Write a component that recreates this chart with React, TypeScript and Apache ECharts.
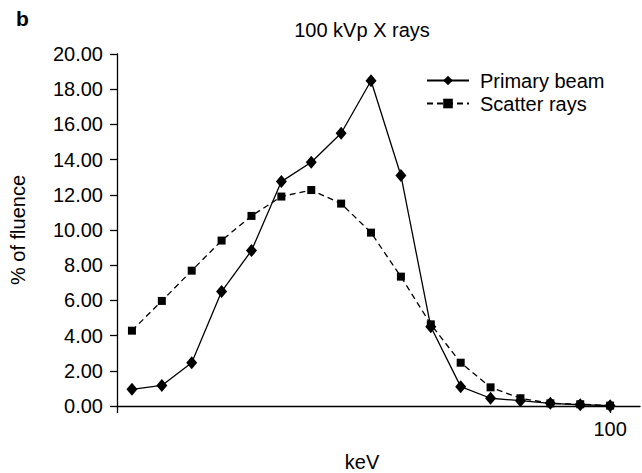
import React, { useEffect, useRef } from "react";
import * as echarts from "echarts";

const keV = [20, 25, 30, 35, 40, 45, 50, 55, 60, 65, 70, 75, 80, 85, 90, 95, 100];
const primaryBeam = [0.95, 1.17, 2.46, 6.5, 8.83, 12.75, 13.85, 15.5, 18.48, 13.1, 4.5, 1.1, 0.44, 0.3, 0.15, 0.07, 0.02];
const scatterRays = [4.28, 5.97, 7.69, 9.4, 10.8, 11.9, 12.27, 11.5, 9.85, 7.35, 4.64, 2.46, 1.06, 0.44, 0.15, 0.1, 0.02];
const xTickValues = [17.5, 100];
const xLabelValues = [100];

const FONT = "'Liberation Sans', Arial, Helvetica, sans-serif";

export default function App() {
  const ref = useRef<HTMLDivElement>(null);
  useEffect(() => {
    if (!ref.current) return;
    const chart = echarts.init(ref.current, null, { renderer: "svg" });
    chart.setOption({
      animation: false,
      backgroundColor: "#ffffff",
      textStyle: { fontFamily: FONT, color: "#000" },
      grid: { left: 113, right: 2, top: 54, bottom: 67, containLabel: false },
      graphic: [
        {
          type: "text",
          left: 16,
          top: 8,
          style: { text: "b", fontSize: 21, fontWeight: "bold", fontFamily: FONT, fill: "#000" },
        },
        {
          type: "text",
          x: 362,
          y: 30,
          style: { text: "100 kVp X rays", fontSize: 20, fontFamily: FONT, fill: "#000", align: "center", verticalAlign: "middle" },
        },
        {
          type: "text",
          x: 362,
          y: 462,
          style: { text: "keV", fontSize: 20, fontFamily: FONT, fill: "#000", align: "center", verticalAlign: "middle" },
        },
      ],
      legend: {
        orient: "vertical",
        left: 426,
        top: 69,
        padding: 0,
        itemWidth: 42,
        itemHeight: 12,
        itemGap: 0,
        textStyle: { fontSize: 20, fontFamily: FONT, color: "#000", lineHeight: 23, padding: [0, 0, 0, 6] },
        data: ["Primary beam", "Scatter rays"],
      },
      xAxis: {
        type: "value",
        min: 17.5,
        max: 105,
        axisLine: { show: true, lineStyle: { color: "#000", width: 1.3 } },
        axisTick: { show: true, length: 7, customValues: xTickValues, lineStyle: { color: "#000", width: 1.3 } },
        axisLabel: { customValues: xLabelValues, fontSize: 20, color: "#000", margin: 13, fontFamily: FONT },
        splitLine: { show: false },
      },
      yAxis: {
        type: "value",
        min: 0,
        max: 20,
        interval: 2,
        name: "% of fluence",
        nameLocation: "middle",
        nameGap: 89,
        nameTextStyle: { fontSize: 20, color: "#000000", fontFamily: FONT },
        axisLine: { show: true, lineStyle: { color: "#000", width: 1.3 } },
        axisTick: { show: true, length: 7, lineStyle: { color: "#000", width: 1.3 } },
        axisLabel: { fontSize: 20, color: "#000", margin: 14, fontFamily: FONT, formatter: (v: number) => v.toFixed(2) },
        splitLine: { show: false },
      },
      series: [
        {
          name: "Primary beam",
          type: "line",
          data: keV.map((k, i) => [k, primaryBeam[i]]),
          symbol: "diamond",
          symbolSize: [11, 13],
          itemStyle: { color: "#000" },
          lineStyle: { color: "#000", width: 1.3, type: "solid" },
          z: 3,
        },
        {
          name: "Scatter rays",
          type: "line",
          data: keV.map((k, i) => [k, scatterRays[i]]),
          symbol: "rect",
          symbolSize: 8,
          itemStyle: { color: "#000" },
          lineStyle: { color: "#000", width: 1.3, type: [6, 4] },
          z: 2,
        },
      ],
    });
    return () => chart.dispose();
  }, []);
  return <div ref={ref} style={{ width: 642, height: 473, position: "absolute", left: 0, top: 0 }} />;
}
